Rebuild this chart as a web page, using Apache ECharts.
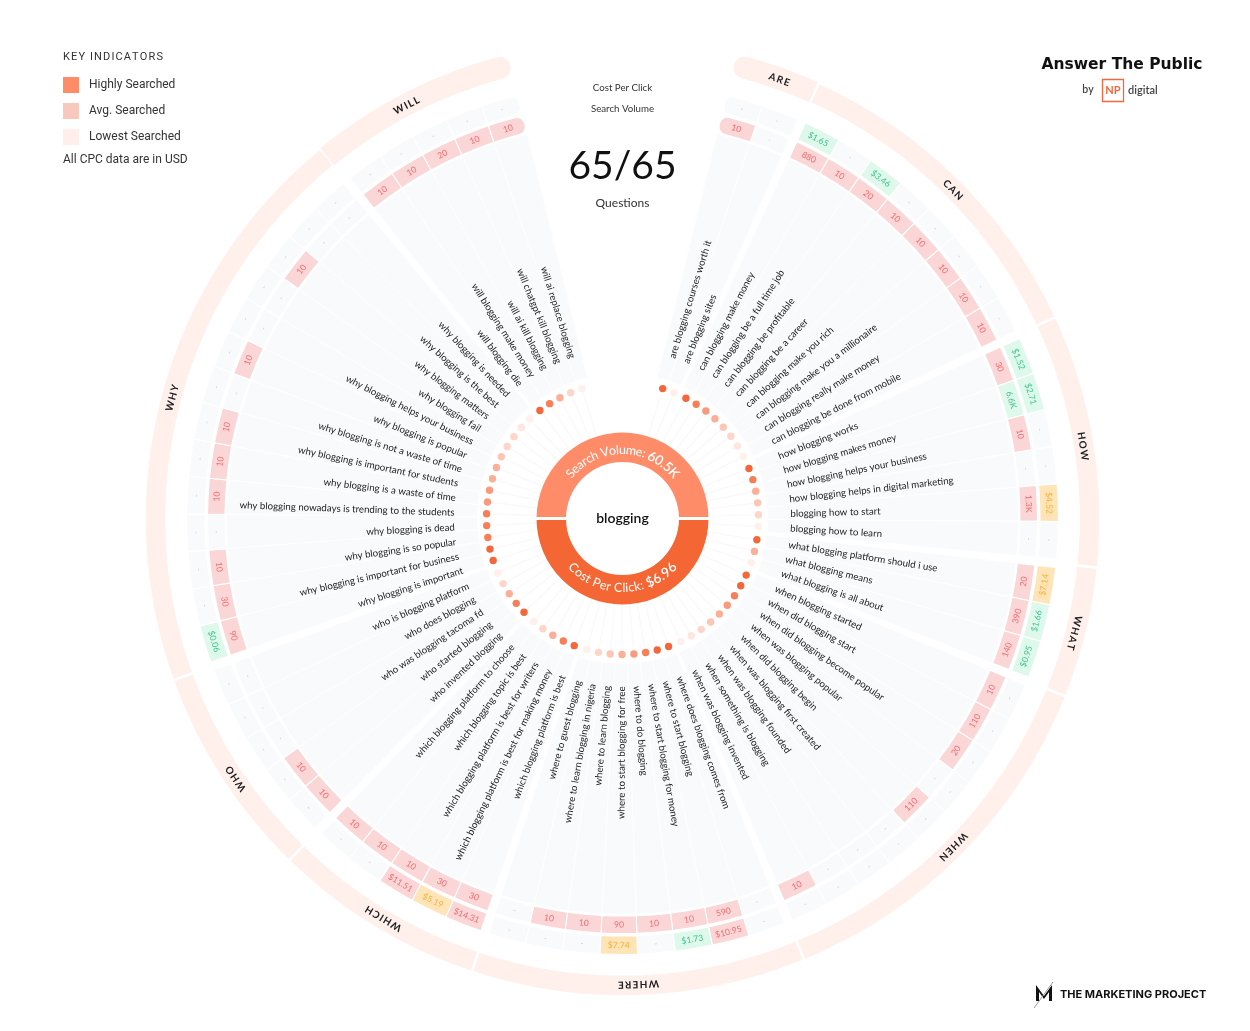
<!DOCTYPE html>
<html><head><meta charset="utf-8">
<style>html,body{margin:0;padding:0;background:#fff}#c{width:1250px;height:1031px}</style>
<script src="https://cdn.jsdelivr.net/npm/echarts@6/dist/echarts.min.js"></script>
</head><body><div id="c"></div>
<script>
const groupNames = ['ARE','CAN','HOW','WHAT','WHEN','WHERE','WHICH','WHO','WHY','WILL'];
const questions = [
 ['are blogging courses worth it','are blogging sites'],
 ['can blogging make money','can blogging be a full time job','can blogging be profitable','can blogging be a career','can blogging make you rich','can blogging make you a millionaire','can blogging really make money','can blogging be done from mobile'],
 ['how blogging works','how blogging makes money','how blogging helps your business','how blogging helps in digital marketing','blogging how to start','blogging how to learn'],
 ['what blogging platform should i use','what blogging means','what blogging is all about'],
 ['when blogging started','when did blogging start','when did blogging become popular','when was blogging popular','when did blogging begin','when was blogging first created','when was blogging founded','when something is blogging','when was blogging invented'],
 ['where does blogging comes from','where to start blogging','where to start blogging for money','where to do blogging','where to start blogging for free','where to learn blogging','where to learn blogging in nigeria','where to guest blogging'],
 ['which blogging platform is best','which blogging platform is best for making money','which blogging platform is best for writers','which blogging topic is best','which blogging platform to choose'],
 ['who invented blogging','who started blogging','who was blogging tacoma fd','who does blogging','who is blogging platform'],
 ['why blogging is important','why blogging is important for business','why blogging is so popular','why blogging is dead','why blogging nowadays is trending to the students','why blogging is a waste of time','why blogging is important for students','why blogging is not a waste of time','why blogging is popular','why blogging helps your business','why blogging fail','why blogging matters','why blogging is the best','why blogging is needed'],
 ['will blogging die','will blogging make money','will ai kill blogging','will chatgpt kill blogging','will ai replace blogging']
];
const volumes = [
 ['10','-'],
 ['880','10','20','10','10','10','10','10'],
 ['30','6.6K','10','-','1.3K','-'],
 ['20','390','140'],
 ['10','110','20','-','110','-','-','-','10'],
 ['-','590','10','10','90','10','10','-'],
 ['30','30','10','10','10'],
 ['10','10','-','-','-'],
 ['90','30','10','-','10','10','10','-','10','-','-','10','-','-'],
 ['10','10','20','10','10']
];
const cpcs = [
 ['-','-'],
 ['$1.65','-','$3.46','-','-','-','-','-'],
 ['$1.52','$2.71','-','-','$4.52','-'],
 ['$7.14','$1.66','$0.95'],
 ['-','-','-','-','-','-','-','-','-'],
 ['-','$10.95','$1.73','-','$7.74','-','-','-'],
 ['$14.31','$5.19','$11.51','-','-'],
 ['-','-','-','-','-'],
 ['$0.06','-','-','-','-','-','-','-','-','-','-','-','-','-'],
 ['-','-','-','-','-']
];
const dotShades = [
 [0,7],[0,1,2,3,4,5,6,7],[0,1,3,4,5,7],[0,3,7],[0,0,1,2,3,4,5,6,7],
 [0,0,1,2,3,4,5,7],[0,1,3,5,7],[0,1,3,5,7],[0,0,1,1,1,2,2,3,3,4,5,5,6,7],[0,1,3,5,7]
];
const dotPalette = ['#f4673a','#f77f58','#fa9a7c','#fcae96','#fec5b4','#ffd5c9','#ffe6df','#fff0ec'];
const rootTerm = 'blogging', rootVolume = '60.5K', rootCpc = '$6.96', countLabel = '65/65';

// layout (degrees, clockwise from top; pixels in radius)
const START=13.8, STEP=4.96, GAP=1.1, DOT_START=17.2, DOT_STEP=5, DOT_GAP=0.6;
const labelNudge=[0.9,0.5,0.6,0.3,0,0,-0.5,-1.2,-0.5,-1.3];
const items=[], groups=[];
let a=START, d=DOT_START;
questions.forEach((qs,g)=>{
  const gs=a;
  qs.forEach((q,i)=>{
    items.push({g,q,vol:volumes[g][i],cpc:cpcs[g][i],dot:dotPalette[dotShades[g][i]],a0:a,a1:a+STEP,mid:a+STEP/2,dotA:d});
    a+=STEP; d+=DOT_STEP;
  });
  groups.push({name:groupNames[g],a0:gs,a1:a});
  a+=GAP; d+=DOT_GAP;
});
const last=items.length-1;
const rad=t=>(t-90)*Math.PI/180;
const rot=t=>-t*Math.PI/180;

const chart=echarts.init(document.getElementById('c'),null,{renderer:'canvas'});
const mctx=document.createElement('canvas').getContext('2d');
function sect(api,r0,r,t0,t1,style,corner){
  const c=api.coord([0,0]);
  const px=v=>{const p=api.coord([v,0]);return Math.hypot(p[0]-c[0],p[1]-c[1]);};
  const shape={cx:c[0],cy:c[1],r0:px(r0),r:px(r),startAngle:rad(t0),endAngle:rad(t1),clockwise:true};
  if(corner)shape.cornerRadius=corner;
  return {type:'sector',shape,style};
}
function txt(api,r,t,text,rotation,style){
  const p=api.coord([r,t]);
  return {type:'text',x:p[0],y:p[1],rotation,style:Object.assign({text,align:'center',verticalAlign:'middle'},style)};
}
function cellTone(v,row){
  if(v==='-')return ['#f9fafc','#c9cdd3'];
  if(row==='vol')return parseFloat(v)>=5&&v.endsWith('K')?['#def9ec','#3cc38c']:['#fbd6d6','#f56a6f'];
  const n=parseFloat(v.slice(1));
  if(n>=10)return ['#fbd6d6','#f56a6f'];
  if(n>=4)return ['#ffe4b8','#f6b03a'];
  return ['#def9ec','#3cc38c'];
}
function tangentRot(t){return rot(t>90&&t<270?t-180:t);}
const cellFont=v=>v==='-'?'8px Lato':'8.6px Lato';

function makeSeries(data,renderItem){
  return {type:'custom',coordinateSystem:'polar',silent:true,animation:false,clip:false,
    encode:{radius:0,angle:1},data,renderItem};
}
const itemData=items.map((it,i)=>[400,it.mid,i]);
const groupData=groups.map((g,i)=>[467,(g.a0+g.a1)/2,i]);

// arc-following text, one glyph at a time
function arcChars(api,str,r,mid,bottom,fontFor,fill){
  const chars=[...str];const w=[];
  chars.forEach((ch,i)=>{mctx.font=fontFor(i);w.push(mctx.measureText(ch).width);});
  const tot=w.reduce((s,x)=>s+x,0);let s=-tot/2;const out=[];
  chars.forEach((ch,i)=>{
    const c=(s+w[i]/2)/r*180/Math.PI;s+=w[i];
    const t=bottom?mid-c:mid+c;
    out.push(txt(api,r,t,ch,rot(bottom?t-180:t),{font:fontFor(i),fill}));
  });
  return out;
}

const series=[
 // category band
 makeSeries(groupData,(p,api)=>{
   const i=api.value(2),g=groups[i];
   const t0=i===0?g.a0:g.a0-GAP/2, t1=i===groups.length-1?g.a1:g.a1+GAP/2;
   const cr=i===0?[11,0,11,0]:i===groups.length-1?[0,11,0,11]:0;
   const tm=(g.a0+g.a1)/2+labelNudge[i];
   return {type:'group',children:[
     sect(api,456,478,t0,t1,{fill:'#fff0ec',stroke:'#fff',lineWidth:i===0||i===groups.length-1?0:2.5},cr),
     txt(api,466,tm,[...g.name].join('\u2009'),rot(tm),{font:'700 10px Lato',fill:'#1d1d1d'})
   ]};
 }),
 // question wedges
 makeSeries(itemData,(p,api)=>{
   const it=items[api.value(2)];
   return sect(api,145,396,it.a0,it.a1,{fill:'#f9fafc',stroke:'#fff',lineWidth:1});
 }),
 // volume row
 makeSeries(itemData,(p,api)=>{
   const i=api.value(2),it=items[i],tone=cellTone(it.vol,'vol');
   const cr=i===0?[8,0,8,0]:i===last?[0,8,0,8]:0;
   return {type:'group',children:[
     sect(api,397.5,415,it.a0,it.a1,{fill:tone[0],stroke:'#fff',lineWidth:1.1},cr),
     txt(api,406.3,it.mid,it.vol,tangentRot(it.mid),{font:cellFont(it.vol),fill:tone[1]})
   ]};
 }),
 // CPC row
 makeSeries(itemData,(p,api)=>{
   const i=api.value(2),it=items[i],tone=cellTone(it.cpc,'cpc');
   const cr=i===0?[8,0,8,0]:i===last?[0,8,0,8]:0;
   return {type:'group',children:[
     sect(api,417.5,436,it.a0,it.a1,{fill:tone[0],stroke:'#fff',lineWidth:1.1},cr),
     txt(api,426.7,it.mid,it.cpc,tangentRot(it.mid),{font:cellFont(it.cpc),fill:tone[1]})
   ]};
 }),
 // question text
 makeSeries(itemData,(p,api)=>{
   const it=items[api.value(2)],t=it.dotA,right=t<180;
   return txt(api,168,t,it.q,right?rot(t-90):rot(t+90),{font:'9.7px Lato',fill:'#222',align:right?'left':'right'});
 }),
 // spokes and dots
 makeSeries(itemData,(p,api)=>{
   const it=items[api.value(2)];
   const a=api.coord([86,it.dotA]),b=api.coord([136,it.dotA]);
   return {type:'group',children:[
     {type:'line',shape:{x1:a[0],y1:a[1],x2:b[0],y2:b[1]},style:{stroke:'#f9f9fa',lineWidth:1.3}},
     {type:'circle',shape:{cx:b[0],cy:b[1],r:3.7},style:{fill:it.dot}}
   ]};
 }),
 // root donut
 makeSeries([[71,0,0]],(p,api)=>{
   const a=api.coord([56.5,90]),b=api.coord([87,90]),a2=api.coord([56.5,270]),b2=api.coord([87,270]);
   const fn=(bold)=>bold?'600 13.5px Lato':'12.5px Lato';
   const topStr='Search Volume: '+rootVolume, botStr='Cost Per Click: '+rootCpc;
   const topN=topStr.length-rootVolume.length, botN=botStr.length-rootCpc.length;
   return {type:'group',children:[
     sect(api,56.5,86,-90,90,{fill:'#ff8c69'}),
     sect(api,56.5,86,90,270,{fill:'#f46633'}),
     {type:'line',shape:{x1:a[0],y1:a[1],x2:b[0],y2:b[1]},style:{stroke:'#fff',lineWidth:3}},
     {type:'line',shape:{x1:a2[0],y1:a2[1],x2:b2[0],y2:b2[1]},style:{stroke:'#fff',lineWidth:3}},
     ...arcChars(api,topStr,68.5,0,false,i=>fn(i>=topN),'#fff'),
     ...arcChars(api,botStr,69.5,180,true,i=>fn(i>=botN),'#fff'),
     txt(api,0,0,rootTerm,0,{font:'600 14px Lato',fill:'#111'})
   ]};
 })
];

const gtext=(x,y,text,font,fill,align)=>({type:'text',x,y,silent:true,style:{text,font,fill:fill||'#333',align:align||'left',verticalAlign:'middle'}});
const grect=(x,y,w,h,fill)=>({type:'rect',shape:{x,y,width:w,height:h},style:{fill}});
chart.setOption({
  animation:false,backgroundColor:'#fff',
  polar:{center:[622.5,518.5],radius:500},
  angleAxis:{type:'value',min:0,max:360,startAngle:90,clockwise:true,show:false},
  radiusAxis:{type:'value',min:0,max:500,show:false},
  series,
  graphic:{elements:[
    gtext(63,57,'KEY INDICATORS'.split('').join('\u200a'),'11px Roboto','#333'),
    grect(63,77,16,16,'#ff8c69'),gtext(89,85,'Highly Searched','12px Roboto','#333'),
    grect(63,103,16,16,'#f7c8bb'),gtext(89,111,'Avg. Searched','12px Roboto','#333'),
    grect(63,129,16,16,'#ffeee9'),gtext(89,136.5,'Lowest Searched','12px Roboto','#333'),
    gtext(63,160,'All CPC data are in USD','12px Roboto','#333'),
    gtext(622.5,88,'Cost Per Click','9.7px Lato','#333','center'),
    gtext(622.5,109,'Search Volume','9.7px Lato','#333','center'),
    gtext(622.5,166,countLabel,'39px Lato','#111','center'),
    gtext(622.5,203,'Questions','12px Lato','#333','center'),
    gtext(1122,65,'Answer The Public','600 15.5px "DejaVu Sans"','#111','center'),
    gtext(1088,90,'by','600 10.5px Lato','#444','center'),
    {type:'rect',shape:{x:1102.5,y:79.5,width:21,height:22},style:{fill:'none',stroke:'#f4673a',lineWidth:1.3}},
    gtext(1113,90.5,'NP','700 11px Lato','#f4673a','center'),
    gtext(1128,90,'digital','600 11px Lato','#444'),
    {type:'polygon',shape:{points:[[1036,1001],[1036,985],[1044,996],[1052,985],[1052,1001],[1049,1001],[1049,992],[1044,999],[1039,992],[1039,1001]]},style:{fill:'#111'}},
    {type:'line',shape:{x1:1034,y1:1008,x2:1053,y2:982},style:{stroke:'#999',lineWidth:1}},
    gtext(1060,995,'THE MARKETING PROJECT','700 11px Inter','#111')
  ]}
});
</script></body></html>
